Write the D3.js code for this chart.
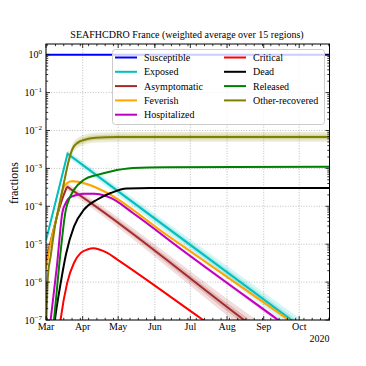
<!DOCTYPE html>
<html><head><meta charset="utf-8">
<script src="https://cdn.jsdelivr.net/npm/d3@7"></script>
<style>
body{margin:0;background:#fff}
svg{display:block}
text{font-family:"Liberation Serif","DejaVu Serif",serif;fill:#000}
</style>
</head><body><svg id="c" width="366" height="366"></svg>
<script>
// ---------------- data (day offset from 2020-03-01, fraction) ----------------
const titleText = "SEAFHCDRO France (weighted average over 15 regions)";
const yLabelText = "fractions";
const yearLabel = "2020";
const monthLabels = ["Mar","Apr","May","Jun","Jul","Aug","Sep","Oct"];
const yTickExponents = [0,-1,-2,-3,-4,-5,-6,-7];
const seriesNames = ["Susceptible","Exposed","Asymptomatic","Feverish","Hospitalized","Critical","Dead","Released","Other-recovered"];

const susceptible = [[0,1.0],[239.6,0.99]];
const exposed = [[0,1.26e-5],[18.2,2.45e-3],[100,3.09e-5],[239.6,1.8e-8]];
const asymptomatic = [[0,3.55e-6],[16,2.40e-4],[18,3.24e-4],[20,2.95e-4],[166.5,1.05e-7],[239.6,2.0e-9]];
const feverish = [[0,2.24e-6],[3,7.94e-6],[9,5.01e-5],[15,3.16e-4],[18,4.17e-4],[22,4.57e-4],[27,4.47e-4],[35,3.80e-4],[50,2.40e-4],[100,1.95e-5],[239.6,1.8e-8]];
const hospitalized = [[2.5,4.0e-8],[4,1.05e-7],[9.3,2.82e-6],[13.8,6.76e-5],[16.9,1.26e-4],[19.4,1.66e-4],[25,1.95e-4],[32,2.14e-4],[40.6,2.14e-4],[54.7,1.66e-4],[74,6.46e-5],[114.5,7.24e-6],[195.3,1.05e-7],[239.6,1.05e-8]];
const critical = [[10,2.5e-8],[12.4,1.05e-7],[17.9,9.55e-7],[23.7,3.24e-6],[29.4,5.89e-6],[35,7.24e-6],[40,7.76e-6],[45,7.24e-6],[51.8,5.89e-6],[60,3.98e-6],[131.9,1.05e-7],[239.6,4.6e-10]];
const dead = [[6,4.0e-8],[7.6,1.05e-7],[12,7.94e-7],[17,5.62e-6],[23.7,2.95e-5],[32.1,8.13e-5],[43.4,1.51e-4],[54.7,2.24e-4],[68.2,2.95e-4],[88,3.02e-4],[239.6,3.02e-4]];
const released = [[5,3.16e-8],[6.8,1.05e-7],[12,5.01e-6],[16.7,7.94e-5],[20,1.66e-4],[23.7,2.75e-4],[32.1,5.01e-4],[43.4,6.76e-4],[54.7,8.32e-4],[73.5,1.02e-3],[100,1.08e-3],[239.6,1.10e-3]];
const otherRecovered = [[0,3.16e-8],[1.5,1.26e-6],[4,5.01e-6],[8,3.55e-5],[12,1.41e-4],[16,5.62e-4],[19.4,1.70e-3],[21,2.51e-3],[23,3.55e-3],[27,4.79e-3],[32,5.62e-3],[42,6.46e-3],[60,6.70e-3],[100,6.76e-3],[239.6,6.76e-3]];
// log10 half-width of the outer uncertainty band, at first and last point
const bandSpread = [[0,0],[0.08,0.22],[0.08,0.3],[0.03,0.06],[0.02,0.07],[0,0],[0,0],[0,0],[0.13,0.13]];

const seriesData = [susceptible, exposed, asymptomatic, feverish, hospitalized, critical, dead, released, otherRecovered];
const seriesColors = ["#0000ff","#00bfbf","#a52a2a","#ffa500","#bf00bf","#ff0000","#000000","#008000","#808000"];
const sharpPeak = [false,true,false,false,false,false,false,false,false];

// ---------------- layout ----------------
const L = 46, R = 329.5, T = 44, B = 320;
const svg = d3.select("#c");
const DAY = 864e5;
const t0 = Date.UTC(2020,2,1);
const toDate = d => new Date(t0 + d*DAY);

const x = d3.scaleUtc().domain([toDate(0), toDate(239.6)]).range([L, R]);
const y = d3.scaleLog().domain([1e-7, 1.915]).range([B, T]);

svg.append("defs").append("clipPath").attr("id","clip")
  .append("rect").attr("x",L).attr("y",T).attr("width",R-L).attr("height",B-T);

// grid
const monthTicks = d3.utcMonth.range(toDate(0), toDate(240));
const grid = svg.append("g").attr("stroke","#b0b0b0").attr("stroke-width",0.8).attr("stroke-dasharray","1,1.6");
monthTicks.forEach(t => grid.append("line").attr("x1",x(t)).attr("x2",x(t)).attr("y1",T).attr("y2",B));
yTickExponents.forEach(e => grid.append("line").attr("x1",L).attr("x2",R).attr("y1",y(Math.pow(10,e))).attr("y2",y(Math.pow(10,e))));

// series
const plot = svg.append("g").attr("clip-path","url(#clip)");
const mkLine = c => d3.line().x(p => x(toDate(p[0]))).y(p => y(Math.max(p[1],1e-12))).curve(c);
const mkArea = c => d3.area().x(p => x(toDate(p[0]))).y0(p => y(p[1])).y1(p => y(p[2])).curve(c);

seriesData.forEach((pts, i) => {
  const [s0, s1] = bandSpread[i];
  if (s0 === 0 && s1 === 0) return;
  const c = sharpPeak[i] ? d3.curveLinear : d3.curveMonotoneX;
  const dA = pts[0][0], dB = pts[pts.length-1][0];
  [[1,0.16],[0.5,0.2]].forEach(([k, op]) => {
    const band = pts.map(p => {
      const s = k*(s0 + (s1-s0)*(p[0]-dA)/(dB-dA));
      return [p[0], p[1]*Math.pow(10,-s), p[1]*Math.pow(10,s)];
    });
    plot.append("path").attr("d", mkArea(c)(band)).attr("fill", seriesColors[i]).attr("fill-opacity", op).attr("stroke","none");
  });
});
seriesData.forEach((pts, i) => {
  const c = sharpPeak[i] ? d3.curveLinear : d3.curveMonotoneX;
  plot.append("path").attr("d", mkLine(c)(pts)).attr("fill","none")
    .attr("stroke", seriesColors[i]).attr("stroke-width", 2);
});

// ticks
const ticks = svg.append("g").attr("stroke","#000").attr("stroke-width",0.8);
const weekTicks = d3.utcMonday.range(toDate(0), toDate(240));
weekTicks.forEach(t => {
  const xx = x(t); if (xx < L || xx > R) return;
  ticks.append("line").attr("x1",xx).attr("x2",xx).attr("y1",B).attr("y2",B-2.2);
  ticks.append("line").attr("x1",xx).attr("x2",xx).attr("y1",T).attr("y2",T+2.2);
});
monthTicks.forEach(t => {
  const xx = x(t);
  ticks.append("line").attr("x1",xx).attr("x2",xx).attr("y1",B).attr("y2",B-4);
  ticks.append("line").attr("x1",xx).attr("x2",xx).attr("y1",T).attr("y2",T+4);
});
for (let e = -7; e <= 0; e++) {
  for (let m = 2; m <= 9; m++) {
    const v = m*Math.pow(10,e); if (v > 1.915) continue;
    const yy = y(v);
    ticks.append("line").attr("x1",L).attr("x2",L+2.2).attr("y1",yy).attr("y2",yy);
    ticks.append("line").attr("x1",R).attr("x2",R-2.2).attr("y1",yy).attr("y2",yy);
  }
}
yTickExponents.forEach(e => {
  const yy = y(Math.pow(10,e));
  ticks.append("line").attr("x1",L).attr("x2",L+4).attr("y1",yy).attr("y2",yy);
  ticks.append("line").attr("x1",R).attr("x2",R-4).attr("y1",yy).attr("y2",yy);
});

// frame
svg.append("rect").attr("x",L).attr("y",T).attr("width",R-L).attr("height",B-T)
  .attr("fill","none").attr("stroke","#000").attr("stroke-width",1);

// tick labels
monthTicks.forEach((t, i) => {
  svg.append("text").attr("x", x(t)).attr("y", 330).attr("text-anchor","middle")
    .attr("font-size",10).text(monthLabels[i]);
});
svg.append("text").attr("x", R).attr("y", 341.5).attr("text-anchor","end").attr("font-size",10).text(yearLabel);
yTickExponents.forEach(e => {
  const t = svg.append("text").attr("x",42).attr("y", y(Math.pow(10,e))+3.5).attr("text-anchor","end").attr("font-size",10);
  t.append("tspan").text("10");
  t.append("tspan").attr("dy",-4).attr("font-size",7).text(e === 0 ? "0" : "\u2212" + (-e));
});

// title & y label
svg.append("text").attr("x",187).attr("y",38).attr("text-anchor","middle").attr("font-size",10).text(titleText);
svg.append("text").attr("transform","translate(18,183) rotate(-90)").attr("text-anchor","middle").attr("font-size",12).text(yLabelText);

// legend
const lg = svg.append("g");
lg.append("rect").attr("x",112.5).attr("y",49.5).attr("width",212).attr("height",75).attr("rx",3)
  .attr("fill","#fff").attr("fill-opacity",0.8).attr("stroke","#cccccc").attr("stroke-width",1);
seriesNames.forEach((name, i) => {
  const col = i < 5 ? 0 : 1, row = i < 5 ? i : i - 5;
  const ly = 57.5 + row*14.3;
  const lx = col === 0 ? 115 : 224;
  lg.append("line").attr("x1",lx).attr("x2",lx+22).attr("y1",ly).attr("y2",ly)
    .attr("stroke",seriesColors[i]).attr("stroke-width",2);
  lg.append("text").attr("x",lx+29).attr("y",ly+3.5).attr("font-size",10).text(name);
});
</script>
</body></html>
